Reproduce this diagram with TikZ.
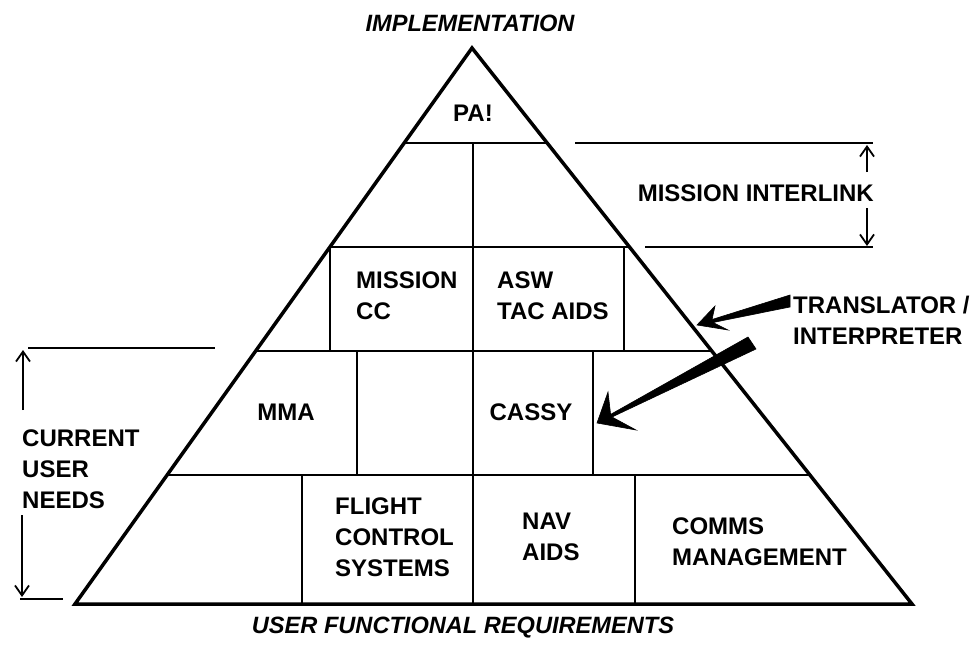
\documentclass[tikz,border=0pt]{standalone}
\usepackage{fontspec}
\setmainfont{Liberation Sans}
\usetikzlibrary{calc,arrows.meta}
\begin{document}
\begin{tikzpicture}[x=1pt,y=-1pt,
  edge/.style={line width=3.5pt, line join=miter},
  part/.style={line width=2.6pt},
  guide/.style={line width=2pt},
  dim/.style={line width=1.8pt, -{Straight Barb[length=10pt,width=14pt,line width=1.8pt]}},
  lbl/.style={font=\fontsize{24}{31}\selectfont\bfseries, inner sep=0pt, align=left},
  ttl/.style={font=\fontsize{23.6}{28}\selectfont\bfseries\itshape, inner sep=0pt},
  wedge/.style={fill=black, draw=black, line width=0.6pt, line join=miter}
]
\useasboundingbox (0,0) rectangle (973,658);

% pyramid outline
\coordinate (apex) at (472,48);
\coordinate (bl) at (75,604);
\coordinate (br) at (912,604);
\draw[edge] (apex) -- (br) -- (bl) -- cycle;

% tiers
\foreach \t/\n in {0.1709/a,0.3579/b,0.5450/c,0.7680/d}{
  \coordinate (L\n) at ($(apex)!\t!(bl)$);
  \coordinate (R\n) at ($(apex)!\t!(br)$);
  \draw[part] (L\n) -- (R\n);
}

% vertical partitions
\draw[part] (473,143) -- (473,604);
\draw[part] (330,247) -- (330,351);
\draw[part] (624,247) -- (624,351);
\draw[part] (357,351) -- (357,475);
\draw[part] (593,351) -- (593,475);
\draw[part] (302,475) -- (302,604);
\draw[part] (635,475) -- (635,604);

% labels inside the pyramid
\node[lbl] (pa) at (473,113) {PA!};
\node[lbl, anchor=west] (mcc) at (356,296) {MISSION\\CC};
\node[lbl, anchor=west] (asw) at (497,296) {ASW\\TAC AIDS};
\node[lbl] (mma) at (286,412) {MMA};
\node[lbl] (cassy) at (531,412) {CASSY};
\node[lbl, anchor=west] (fcs) at (335,537) {FLIGHT\\CONTROL\\SYSTEMS};
\node[lbl, anchor=west] (nav) at (522,537) {NAV\\AIDS};
\node[lbl, anchor=west] (comms) at (672,542) {COMMS\\MANAGEMENT};

% titles
\node[ttl] (impl) at (470,23) {IMPLEMENTATION};
\node[ttl] (ufr) at (463,628) {USER FUNCTIONAL REQUIREMENTS};

% mission interlink bracket
\node[lbl, anchor=east] (mi) at (874,193) {MISSION INTERLINK};
\coordinate (mitop) at (867,145);
\coordinate (mibot) at (867,246);
\draw[guide] (575,143) -- (873,143);
\draw[guide] (645,247) -- (873,247);
\draw[dim] (867,172) -- (mitop);
\draw[dim] (867,208) -- (mibot);

% current user needs bracket
\node[lbl, anchor=west] (cun) at (22,469) {CURRENT\\USER\\NEEDS};
\coordinate (cuntop) at (23,350);
\coordinate (cunbot) at (22,597);
\draw[guide] (28,348) -- (215,348);
\draw[guide] (20,599) -- (63,599);
\draw[dim] (23,410) -- (cuntop);
\draw[dim] (22,515) -- (cunbot);

% translator / interpreter
\node[lbl, anchor=west] (tr) at (793,320) {TRANSLATOR /\\INTERPRETER};
\filldraw[wedge] (697,325) -- (715,306) -- (712,319.5) -- (790,295) -- (790,307) -- (713,322.5) -- (728,330) -- cycle;
\filldraw[wedge] (597,423) -- (608,392) -- (610.6,414.4) -- (748,337) -- (756,349) -- (612,417) -- (636,430) -- cycle;
\end{tikzpicture}
\end{document}
